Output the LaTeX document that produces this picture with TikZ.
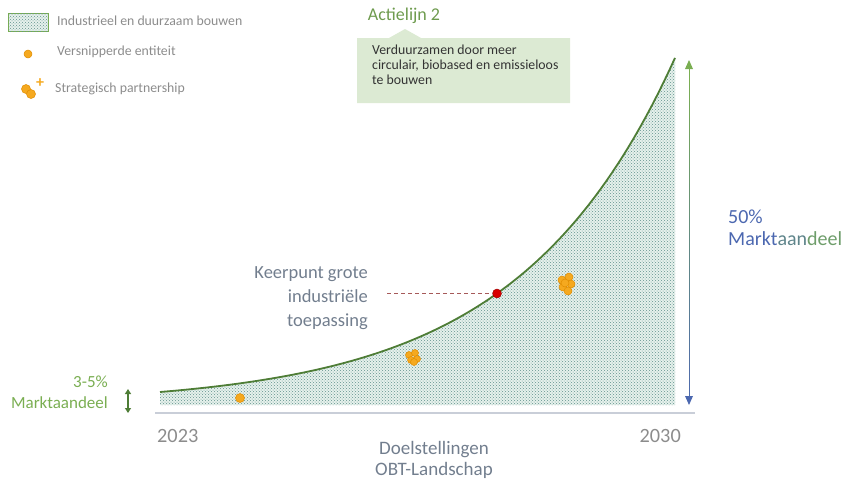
\documentclass[tikz,border=0pt]{standalone}
\usepackage{fontspec}
\setmainfont{Carlito}
\usetikzlibrary{patterns,arrows.meta}
\definecolor{curvegreen}{HTML}{4E7D36}
\definecolor{fillbg}{HTML}{E6F1EC}
\definecolor{dotcol}{HTML}{62938D}
\definecolor{orng}{HTML}{F5A91F}
\definecolor{orngd}{HTML}{E08C00}
\definecolor{legtxt}{HTML}{8C8C8C}
\definecolor{boxgreen}{HTML}{DCEAD3}
\definecolor{actgreen}{HTML}{6E9B4E}
\definecolor{txtgray}{HTML}{727E8E}
\definecolor{axisgray}{HTML}{C9CED8}
\definecolor{mgreen}{HTML}{7AAE52}
\definecolor{mblue}{HTML}{4C68B0}
\tikzset{
  orb/.style={circle, fill=orng, draw=orngd, line width=0.5pt, inner sep=0pt, minimum size=#1},
  orb/.default=8pt,
  legend/.style={anchor=west, text=legtxt, font=\fontsize{13.8}{15}\selectfont, inner sep=0pt},
  big/.style={font=\fontsize{19.5}{22}\selectfont, inner sep=0pt},
}
\begin{document}
\begin{tikzpicture}[x=1pt,y=-1pt]
\useasboundingbox (0,0) rectangle (858,480);
% axis
\draw[axisgray, line width=1.2pt] (155,413) coordinate (ax0) -- (695,413) coordinate (ax1);
% filled area
\path[fill=fillbg, postaction={pattern=crosshatch dots, pattern color=dotcol}]
  plot[domain=160:675, samples=90] (\x, {405-13*exp(0.00638*(\x-160))})
  -- (675,405) -- (160,405) -- cycle;
\draw[curvegreen, line width=1.8pt]
  plot[domain=160:675, samples=90] (\x, {405-13*exp(0.00638*(\x-160))});
% legend
\node[draw=mgreen, line width=0.6pt, minimum width=40pt, minimum height=18pt, inner sep=0pt,
      fill=fillbg, postaction={pattern=crosshatch dots, pattern color=dotcol}] (legbox) at (28,22) {};
\node[legend] (leg1) at (57,21) {Industrieel en duurzaam bouwen};
\node[orb=8pt] (legdot) at (28,54) {};
\node[legend] (leg2) at (57,52) {Versnipperde entiteit};
\node[orb=9pt] (lp1) at (26,89) {};
\node[orb=9pt] (lp2) at (31,94) {};
\node[text=orng, font=\fontsize{16}{16}\selectfont\bfseries, inner sep=0pt] (lplus) at (40,83) {+};
\node[legend] (leg3) at (55,89) {Strategisch partnership};
% Actielijn callout
\node[text=actgreen, font=\fontsize{18}{20}\selectfont, inner sep=0pt] (act) at (404,16) {Actielijn 2};
\fill[boxgreen] (357,38) -- (389,38) -- (405,29) -- (421,38) -- (570,38) -- (570,103) -- (357,103) -- cycle;
\node[anchor=north west, align=left, text=black!80, font=\fontsize{13.8}{15}\selectfont, inner sep=0pt] (actbox) at (372,45)
  {Verduurzamen door meer\\circulair, biobased en emissieloos\\te bouwen};
% keerpunt
\node[font=\fontsize{18.5}{24}\selectfont, inner sep=0pt, align=right, anchor=east, text=txtgray] (keer) at (368,298) {Keerpunt grote\\industriële\\toepassing};
\node[circle, fill=red!85!black, draw=red!60!black, line width=0.4pt, minimum size=9pt, inner sep=0pt] (red) at (497,{405-13*exp(0.00638*337)}) {};
\coordinate (dstart) at (387,0);
\draw[draw=red!30!gray, line width=0.8pt, dash pattern=on 4pt off 3pt] (dstart |- red) -- (red.west);
% orange dots / clusters
\node[orb=9pt] (single) at (240,398) {};
\node[orb=7pt] (c1a) at (409,355) {};
\node[orb=7pt] (c1b) at (415,353) {};
\node[orb=7pt] (c1c) at (411,360) {};
\node[orb=7pt] (c1d) at (417,359) {};
\node[orb=7pt] (c1e) at (414,362) {};
\node[orb=8pt] (c2a) at (562,280) {};
\node[orb=8pt] (c2b) at (569,277) {};
\node[orb=8pt] (c2c) at (571,284) {};
\node[orb=8pt] (c2d) at (563,287) {};
\node[orb=8pt] (c2e) at (568,291) {};
\node[orb=8pt] (c2f) at (565,283) {};
% left market share
\node[text=mgreen, font=\fontsize{17}{21}\selectfont, align=right, anchor=east, inner sep=0pt] (lms) at (108,392) {3-5\%\\Marktaandeel};
\coordinate (la0) at (128,389);
\coordinate (la1) at (128,413);
\draw[curvegreen, line width=1.2pt, {Triangle[width=6pt,length=5pt]}-{Triangle[width=6pt,length=5pt]}] (la0) -- (la1);
% right arrow with gradient
\coordinate (ra0) at (689,60);
\coordinate (ra1) at (689,405);
\foreach \i in {0,...,19} {
  \pgfmathsetmacro{\pa}{\i*5}
  \pgfmathsetmacro{\ya}{68+\i*16.5}
  \pgfmathsetmacro{\yb}{68+(\i+1)*16.5+0.5}
  \draw[mblue!\pa!mgreen, line width=1pt] (689,\ya) -- (689,\yb);
}
\fill[mgreen] (ra0) -- ++(-4,9) -- ++(8,0) -- cycle;
\fill[mblue] (ra1) -- ++(-4,-9) -- ++(8,0) -- cycle;
\node[font=\fontsize{20}{22}\selectfont, inner sep=0pt, anchor=west, align=left] (rms) at (728,228)
  {\textcolor{mblue}{50\%}\\\textcolor{mblue}{Markt}\textcolor{mblue!60!mgreen}{aan}\textcolor{mblue!25!mgreen}{deel}};
% axis labels
\node[big, font=\fontsize{20.3}{22}\selectfont, text=legtxt, anchor=west] (y0) at (157,436) {2023};
\node[big, font=\fontsize{20.3}{22}\selectfont, text=legtxt, anchor=east] (y1) at (681,436) {2030};
\node[big, font=\fontsize{19}{21}\selectfont, text=txtgray, align=center] (doel) at (434,460) {Doelstellingen\\OBT-Landschap};
\end{tikzpicture}
\end{document}
